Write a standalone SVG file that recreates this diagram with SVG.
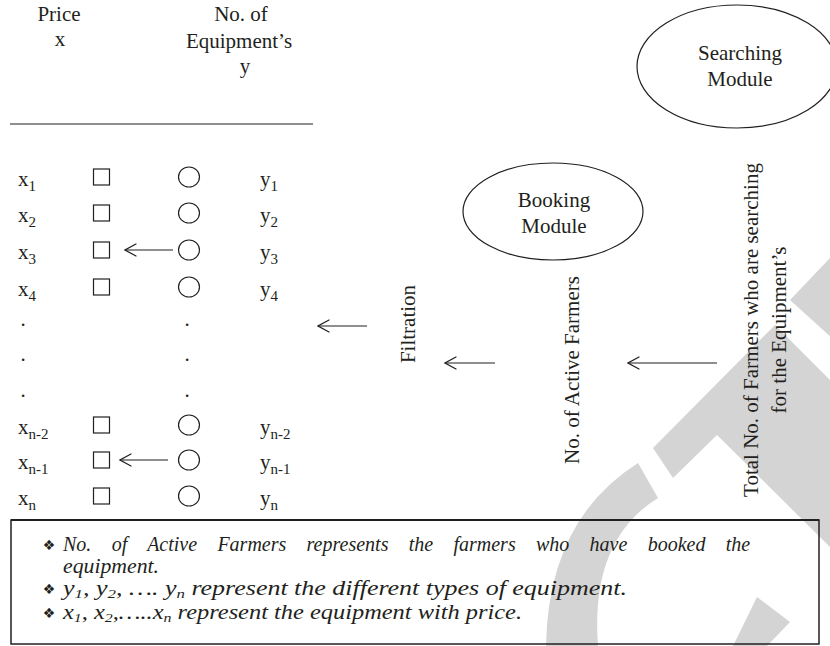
<svg xmlns="http://www.w3.org/2000/svg" width="830" height="646" viewBox="0 0 830 646">
<style>
text{font-family:"Liberation Serif","Times New Roman",serif;font-size:21px;fill:#231f20}
.c{text-anchor:middle}
.sub{font-size:15px}
.it{font-style:italic;font-size:20px}
.isub{font-size:13px}
.bul{font-family:"DejaVu Sans",sans-serif;font-size:14px;text-anchor:middle}
.ln{stroke:#231f20;stroke-width:1.2;fill:none}
.box{stroke:#231f20;stroke-width:1.2;fill:#fff}
.wm{fill:#d4d4d4}
</style>
<defs>
<marker id="arr" viewBox="0 0 14 14" refX="13" refY="7" markerWidth="14" markerHeight="14" markerUnits="userSpaceOnUse" orient="auto">
<path d="M2,1 L13,7 L2,13" fill="none" stroke="#231f20" stroke-width="1.2" stroke-linecap="round"/>
</marker>
</defs>
<rect width="830" height="646" fill="#fff"/>
<g id="watermark">
<polygon class="wm" points="790,300 832,256 832,338"/>
<polygon class="wm" points="653,448 775,325 832,382 832,549 717,435 673,478"/>
<path class="wm" d="M638,463 Q548,520 546,646 L598,646 Q590,540 658,498 Z"/>
<polygon class="wm" points="733,646 757,597 790,622 767,646"/>
</g>
<g id="header">
<text class="c" x="59" y="21">Price</text>
<text class="c" x="60" y="46">x</text>
<text class="c" x="241" y="21">No. of</text>
<text class="c" x="239" y="48">Equipment’s</text>
<text class="c" x="245" y="73">y</text>
<line class="ln" x1="10" y1="124" x2="313" y2="124" stroke-width="1.4"/>
</g>
<g id="table">
<g id="row-1"><text x="18" y="186">x<tspan class="sub" dy="5">1</tspan></text><rect class="box" x="93.5" y="169" width="16" height="16"/><ellipse class="box" cx="189" cy="177" rx="10.5" ry="10"/><text x="260" y="186">y<tspan class="sub" dy="5">1</tspan></text></g>
<g id="row-2"><text x="18" y="222">x<tspan class="sub" dy="5">2</tspan></text><rect class="box" x="93.5" y="205" width="16" height="16"/><ellipse class="box" cx="189" cy="213" rx="10.5" ry="10"/><text x="260" y="222">y<tspan class="sub" dy="5">2</tspan></text></g>
<g id="row-3"><text x="18" y="259">x<tspan class="sub" dy="5">3</tspan></text><rect class="box" x="93.5" y="242" width="16" height="16"/><ellipse class="box" cx="189" cy="250" rx="10.5" ry="10"/><text x="260" y="259">y<tspan class="sub" dy="5">3</tspan></text></g>
<g id="row-4"><text x="18" y="296">x<tspan class="sub" dy="5">4</tspan></text><rect class="box" x="93.5" y="279" width="16" height="16"/><ellipse class="box" cx="189" cy="287" rx="10.5" ry="10"/><text x="260" y="296">y<tspan class="sub" dy="5">4</tspan></text></g>
<g id="dots">
<text class="c" x="23" y="326">.</text><text class="c" x="187" y="326">.</text>
<text class="c" x="23" y="361">.</text><text class="c" x="187" y="361">.</text>
<text class="c" x="23" y="397">.</text><text class="c" x="187" y="397">.</text>
</g>
<g id="row-n-2"><text x="18" y="434">x<tspan class="sub" dy="5">n-2</tspan></text><rect class="box" x="93.5" y="417" width="16" height="16"/><ellipse class="box" cx="189" cy="425" rx="10.5" ry="10"/><text x="260" y="434">y<tspan class="sub" dy="5">n-2</tspan></text></g>
<g id="row-n-1"><text x="18" y="469">x<tspan class="sub" dy="5">n-1</tspan></text><rect class="box" x="93.5" y="452" width="16" height="16"/><ellipse class="box" cx="189" cy="460" rx="10.5" ry="10"/><text x="260" y="469">y<tspan class="sub" dy="5">n-1</tspan></text></g>
<g id="row-n"><text x="18" y="505">x<tspan class="sub" dy="5">n</tspan></text><rect class="box" x="93.5" y="488" width="16" height="16"/><ellipse class="box" cx="189" cy="496" rx="10.5" ry="10"/><text x="260" y="505">y<tspan class="sub" dy="5">n</tspan></text></g>
</g>
<g id="searching-module">
<ellipse class="ln" cx="737" cy="66.5" rx="100" ry="61.5"/>
<text class="c" x="740" y="60">Searching</text>
<text class="c" x="740" y="86">Module</text>
</g>
<g id="booking-module">
<ellipse class="ln" cx="553" cy="211.5" rx="90" ry="48.5"/>
<text class="c" x="554" y="207">Booking</text>
<text class="c" x="554" y="233">Module</text>
</g>
<g id="filtration"><text class="c" transform="translate(415,324) rotate(-90)">Filtration</text></g>
<g id="active-farmers"><text class="c" transform="translate(579,370) rotate(-90)">No. of Active Farmers</text></g>
<g id="total-farmers">
<text class="c" transform="translate(758,330) rotate(-90)">Total No. of Farmers who are searching</text>
<text class="c" transform="translate(786,330) rotate(-90)">for the Equipment’s</text>
</g>
<g id="connectors">
<line class="ln" x1="173" y1="250" x2="125" y2="250" marker-end="url(#arr)"/>
<line class="ln" x1="168" y1="460" x2="120" y2="460" marker-end="url(#arr)"/>
<line class="ln" x1="367" y1="326" x2="318" y2="326" marker-end="url(#arr)"/>
<line class="ln" x1="495" y1="363" x2="445" y2="363" marker-end="url(#arr)"/>
<line class="ln" x1="717" y1="363" x2="628" y2="363" marker-end="url(#arr)"/>
</g>
<g id="legend">
<rect x="11" y="520" width="808" height="124" fill="none" stroke="#231f20" stroke-width="1.5"/>
<line x1="11" y1="520" x2="819" y2="520" stroke="#231f20" stroke-width="2.2"/>
<text class="bul" x="49" y="550">❖</text>
<text class="it" x="63" y="551" word-spacing="15.3">No. of Active Farmers represents the farmers who have booked the</text>
<text class="it" x="63" y="573" textLength="96" lengthAdjust="spacingAndGlyphs">equipment.</text>
<text class="bul" x="49" y="594">❖</text>
<text class="it" x="63" y="595" textLength="564" lengthAdjust="spacingAndGlyphs">y<tspan class="isub" dy="3">1</tspan><tspan dy="-3">, y</tspan><tspan class="isub" dy="3">2</tspan><tspan dy="-3">, …. y</tspan><tspan class="isub" dy="3">n</tspan><tspan dy="-3"> represent the different types of equipment.</tspan></text>
<text class="bul" x="49" y="618">❖</text>
<text class="it" x="63" y="619" textLength="459" lengthAdjust="spacingAndGlyphs">x<tspan class="isub" dy="3">1</tspan><tspan dy="-3">, x</tspan><tspan class="isub" dy="3">2</tspan><tspan dy="-3">,…..x</tspan><tspan class="isub" dy="3">n</tspan><tspan dy="-3"> represent the equipment with price.</tspan></text>
</g>
</svg>
